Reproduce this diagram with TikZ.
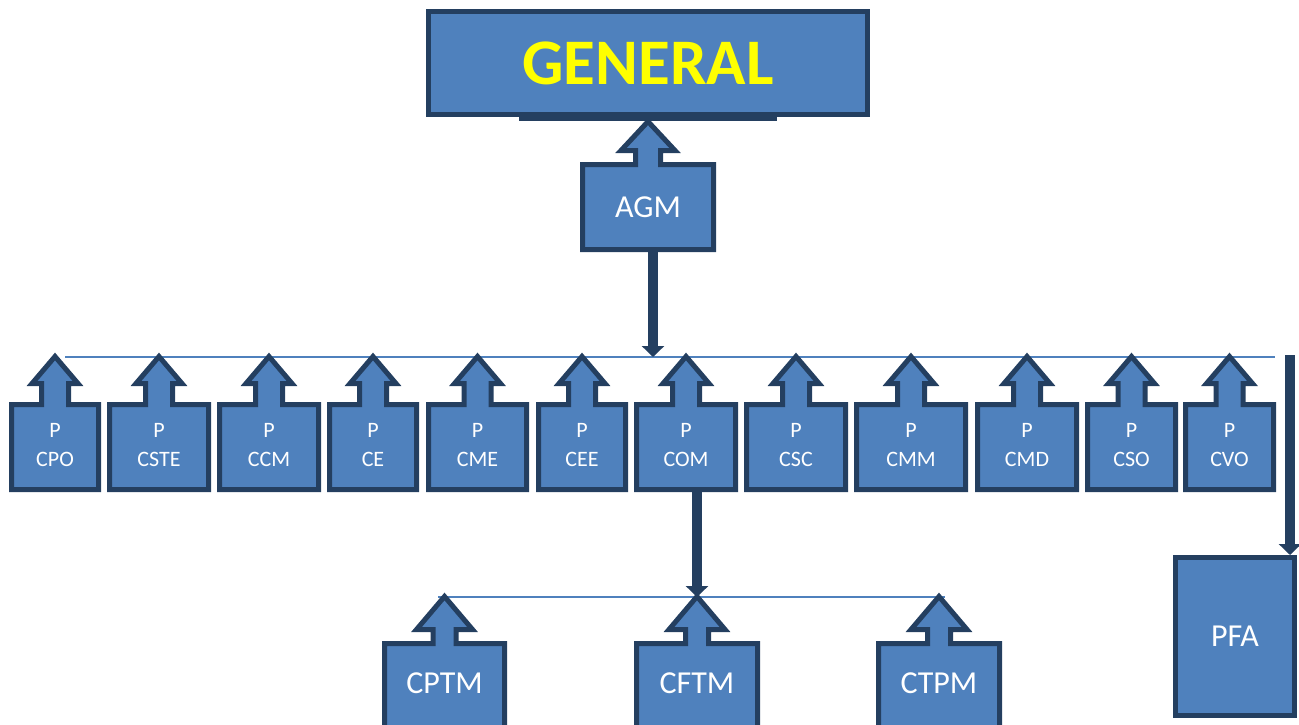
\documentclass[tikz,border=0pt]{standalone}
\usepackage{fontspec}
\setmainfont{Carlito}
\usetikzlibrary{arrows.meta}
\definecolor{fillb}{HTML}{4F81BD}
\definecolor{edgeb}{HTML}{243F60}
\definecolor{genyellow}{HTML}{FFFF00}
% #1 cx, #2 half box width, #3 box top, #4 box bottom, #5 tip y, #6 head base y, #7 head half, #8 shaft half
\newcommand\upcallout[8]{%
  \filldraw[cshape]
    ({#1-#2+2.5},{#3+2.5}) -- ({#1-#8+2.5},{#3+2.5}) -- ({#1-#8+2.5},{#6-2.5}) --
    ({#1-#7+4},{#6-2.5}) -- (#1,{#5+3.5}) -- ({#1+#7-4},{#6-2.5}) --
    ({#1+#8-2.5},{#6-2.5}) -- ({#1+#8-2.5},{#3+2.5}) -- ({#1+#2-2.5},{#3+2.5}) --
    ({#1+#2-2.5},{#4-2.5}) -- ({#1-#2+2.5},{#4-2.5}) -- cycle;}
\tikzset{
  cshape/.style={fill=fillb, draw=edgeb, line width=5pt, line join=miter},
  boxtext/.style={inner sep=0pt, text=white, align=center, font=\fontsize{22}{29}\selectfont},
  lowtext/.style={inner sep=0pt, text=white, font=\fontsize{32}{36}\selectfont},
  bus/.style={draw=fillb, line width=1.5pt},
  thickarr/.style={draw=edgeb, line width=10pt, -{Triangle[width=22pt,length=11pt]}},
}
\begin{document}
\begin{tikzpicture}[x=1pt,y=-1pt]
\useasboundingbox (0,0) rectangle (1299,725);
\clip (0,0) rectangle (1299,725);
% GENERAL
\fill[edgeb] (519,114) rectangle (777,121);
\node[fill=fillb, draw=edgeb, line width=5pt, minimum width=439pt, minimum height=103pt,
      inner sep=0pt, text=genyellow, font=\fontsize{65}{72}\selectfont\bfseries] (gen) at (648,63) {GENERAL};
% AGM
\upcallout{648}{68}{162}{252}{118}{153}{31}{15}
\node[inner sep=0pt, text=white, font=\fontsize{32}{36}\selectfont, minimum width=136pt, minimum height=90pt] (agm) at (648,207) {AGM};
% bus lines
\coordinate (busL) at (65,357);
\coordinate (busR) at (1275,357);
\draw[bus] (busL) -- (busR);
\coordinate (bus2L) at (438,597);
\coordinate (bus2R) at (945,597);
\draw[bus] (bus2L) -- (bus2R);
% row callouts
\upcallout{55}{46}{402}{492}{353}{386}{27}{16}
\node[boxtext, minimum width=92pt, minimum height=90pt] (cpo) at (55,445) {P\\CPO};
\upcallout{159}{52}{402}{492}{353}{386}{27}{16}
\node[boxtext, minimum width=104pt, minimum height=90pt] (cste) at (159,445) {P\\CSTE};
\upcallout{269}{52}{402}{492}{353}{386}{27}{16}
\node[boxtext, minimum width=104pt, minimum height=90pt] (ccm) at (269,445) {P\\CCM};
\upcallout{373}{46}{402}{492}{353}{386}{27}{16}
\node[boxtext, minimum width=92pt, minimum height=90pt] (ce) at (373,445) {P\\CE};
\upcallout{477.5}{51.5}{402}{492}{353}{386}{27}{16}
\node[boxtext, minimum width=103pt, minimum height=90pt] (cme) at (477.5,445) {P\\CME};
\upcallout{582}{46}{402}{492}{353}{386}{27}{16}
\node[boxtext, minimum width=92pt, minimum height=90pt] (cee) at (582,445) {P\\CEE};
\upcallout{686}{52}{402}{492}{353}{386}{27}{16}
\node[boxtext, minimum width=104pt, minimum height=90pt] (com) at (686,445) {P\\COM};
\upcallout{796}{52}{402}{492}{353}{386}{27}{16}
\node[boxtext, minimum width=104pt, minimum height=90pt] (csc) at (796,445) {P\\CSC};
\upcallout{911}{57}{402}{492}{353}{386}{27}{16}
\node[boxtext, minimum width=114pt, minimum height=90pt] (cmm) at (911,445) {P\\CMM};
\upcallout{1027}{52}{402}{492}{353}{386}{27}{16}
\node[boxtext, minimum width=104pt, minimum height=90pt] (cmd) at (1027,445) {P\\CMD};
\upcallout{1131.5}{46.5}{402}{492}{353}{386}{27}{16}
\node[boxtext, minimum width=93pt, minimum height=90pt] (cso) at (1131.5,445) {P\\CSO};
\upcallout{1229.5}{46.5}{402}{492}{353}{386}{27}{16}
\node[boxtext, minimum width=93pt, minimum height=90pt] (cvo) at (1229.5,445) {P\\CVO};
% lower callouts
\upcallout{444.5}{62.5}{641}{745}{593}{632}{32}{14}
\node[lowtext] (cptm) at (444.5,683) {CPTM};
\upcallout{697}{63}{641}{745}{593}{632}{32}{14}
\node[lowtext] (cftm) at (697,683) {CFTM};
\upcallout{939}{63}{641}{745}{593}{632}{32}{14}
\node[lowtext] (ctpm) at (939,683) {CTPM};
% PFA
\node[fill=fillb, draw=edgeb, line width=5pt, minimum width=119pt, minimum height=158pt,
      inner sep=0pt, text=white, font=\fontsize{32}{36}\selectfont] (pfa) at (1235,636.5) {PFA};
% connectors
\draw[thickarr] ([xshift=5pt]agm.south) -- ([xshift=5pt]agm.south |- busL);
\draw[thickarr] (cftm |- com.south) -- (cftm |- bus2L);
\coordinate (rstart) at (1290,355);
\draw[thickarr] (rstart) -- (rstart |- pfa.north);
\end{tikzpicture}
\end{document}
